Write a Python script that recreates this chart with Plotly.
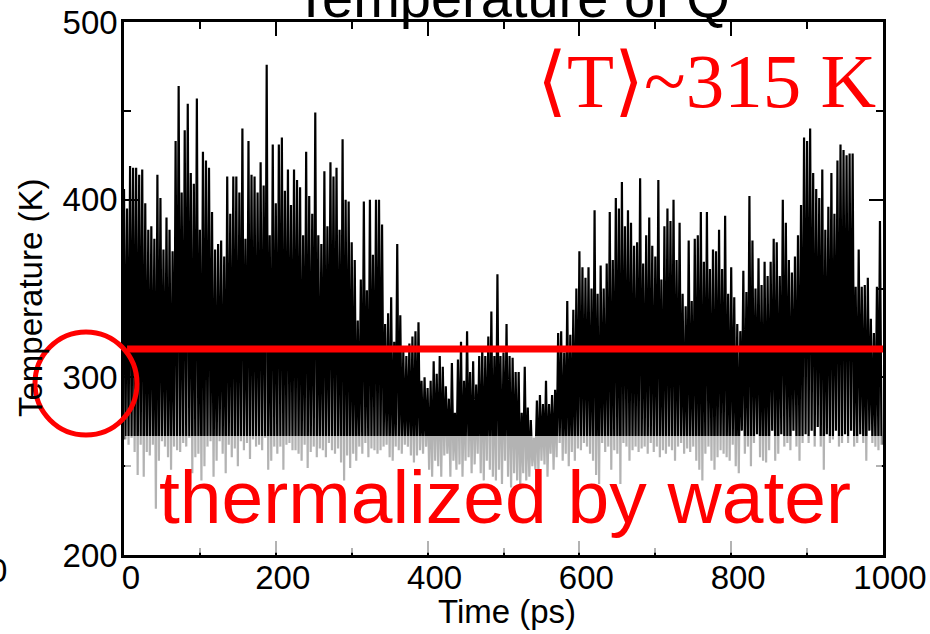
import numpy as np
import plotly.graph_objects as go

# ---------------- data ----------------
STEP = 4  # ps between successive peak samples; troughs sit half-way between
peaks_000_200 = [406,395,419,418,418,414,417,398,383,385, 378,414,401,372,390,383,371,433,464,404,
                 439,454,415,409,457,383,427,422,418,393, 372,375,377,368,413,392,413,413,404,440,
                 378,433,414,413,404,421,408,476,380,431]
peaks_200_400 = [398,431,435,405,417,397,417,411,407,380, 427,402,392,449,380,375,416,385,421,413,
                 418,383,434,400,399,376,366,332,355,399, 349,400,369,400,400,386,330,336,345,320,
                 375,335,315,312,319,323,326,331,298,300]
peaks_400_600 = [294,298,309,302,312,306,295,288,308,280, 310,320,298,326,303,309,296,312,317,312,
                 323,337,312,358,312,314,330,312,311,303, 303,280,306,283,276,266,287,290,285,298,
                 285,290,293,325,326,314,343,324,338,350]
peaks_600_800 = [371,362,356,362,350,394,347,363,350,364, 393,366,401,395,410,385,394,387,374,376,
                 412,364,380,390,374,368,411,355,385,395, 388,400,366,387,347,340,377,343,378,380,
                 393,365,393,361,372,371,383,361,391,347]
peaks_800_1000 = [362,345,330,326,360,348,402,377,350,367, 352,365,357,365,378,376,357,400,387,366,
                  359,368,380,397,435,433,440,415,406,401, 417,383,396,415,392,422,431,428,425,426,
                  426,351,372,351,352,356,333,325,351,388]

troughs_000_200 = [265,262,266,258,245,262,244,258,256,262, 226,253,264,261,255,248,261,259,258,263,
                   261,266,246,255,257,242,250,261,264,244, 253,264,257,246,262,255,260,250,264,259,
                   263,254,265,261,262,259,266,248,253,261]
troughs_200_400 = [257,261,248,262,263,259,259,257,253,262, 249,258,261,255,260,259,255,263,259,257,
                   260,252,242,256,249,257,253,261,257,263, 255,260,259,257,259,261,262,255,253,261,
                   259,257,262,261,256,252,256,259,257,261]
troughs_400_600 = [248,244,253,250,244,256,257,244,253,248, 251,244,253,255,246,251,257,246,242,253,
                   248,244,242,248,240,253,244,238,246,242, 237,246,242,244,250,248,246,253,251,244,
                   257,248,255,263,253,257,250,258,253,260]
troughs_600_800 = [259,263,261,257,253,245,240,263,258,261, 248,259,257,240,263,261,253,259,261,258,
                   260,261,257,263,258,261,255,259,257,261, 259,253,261,263,257,260,258,261,253,248,
                   242,257,261,253,248,255,259,257,255,253]
troughs_800_1000 = [262,250,246,270,257,261,250,263,268,255, 253,252,259,270,253,257,268,261,263,259,
                    270,261,253,263,268,263,270,261,272,261, 248,268,263,265,270,261,263,268,263,270,
                    261,263,268,263,253,270,263,261,259,262]

MEAN_T = 316          # red reference line (K)
WATER_T = 267         # top of the faded band (K)
x_ticks = [0, 200, 400, 600, 800, 1000]
y_ticks = [200, 300, 400, 500]

# ---------------- build series ----------------
peaks = np.array(peaks_000_200 + peaks_200_400 + peaks_400_600 + peaks_600_800 + peaks_800_1000, float)
troughs = np.array(troughs_000_200 + troughs_200_400 + troughs_400_600 + troughs_600_800 + troughs_800_1000, float)
n = len(peaks)
t = np.arange(2 * n) * (STEP / 2)
temp = np.empty(2 * n)
temp[0::2] = peaks
temp[1::2] = troughs

# ---------------- figure ----------------
W, H = 930, 634
L, R, T, B = 124, 47, 22, 79
pw, ph = W - L - R, H - T - B

def px(xp):
    return (xp - L) / pw

def py(yp):
    return (H - B - yp) / ph

fig = go.Figure()
fig.add_trace(go.Scatter(x=t, y=temp, mode="lines",
                         line=dict(color="black", width=2.2, simplify=False),
                         hoverinfo="skip", showlegend=False))

# faded band (water)
fig.add_shape(type="rect", xref="x", yref="y", x0=1.5, x1=998.5, y0=201.2, y1=WATER_T,
              fillcolor="rgba(255,255,255,0.7)", line=dict(width=0), layer="above")
# mean line
fig.add_shape(type="line", xref="x", yref="y", x0=4, x1=1000, y0=MEAN_T, y1=MEAN_T,
              line=dict(color="#ff0000", width=7), layer="above")
# circle around 300
fig.add_shape(type="circle", xref="paper", yref="paper",
              x0=px(35), x1=px(137), y0=py(435), y1=py(332),
              line=dict(color="#ff0000", width=5), layer="above")

font_sans = "Liberation Sans, Arial, Helvetica, sans-serif"
axis_common = dict(showline=True, linewidth=2.5, linecolor="black", mirror="allticks",
                   ticks="inside", ticklen=14, tickwidth=2, tickcolor="black",
                   showgrid=False, zeroline=False, automargin=False,
                   tickfont=dict(family=font_sans, size=33, color="black"))
fig.update_xaxes(range=[0, 1000], tickvals=x_ticks, ticktext=[str(v) for v in x_ticks],
                 minor=dict(dtick=100, ticks="inside", ticklen=7, tickwidth=2, tickcolor="black"),
                 ticklabelstandoff=-8, ticklabelshift=7,
                 **axis_common)
fig.update_yaxes(range=[200, 500], tickvals=y_ticks, ticktext=[str(v) for v in y_ticks],
                 minor=dict(dtick=50, ticks="inside", ticklen=7, tickwidth=2, tickcolor="black"),
                 ticklabelstandoff=-3,
                 **axis_common)

ann = []
ann.append(dict(text="Temperature of Q", x=px(512), y=py(-3), xref="paper", yref="paper",
                xanchor="center", yanchor="middle", showarrow=False,
                font=dict(family=font_sans, size=56, color="black")))
ann.append(dict(text="Time (ps)", x=px(507), y=py(611), xref="paper", yref="paper",
                xanchor="center", yanchor="middle", showarrow=False,
                font=dict(family=font_sans, size=33, color="black")))
ann.append(dict(text="Temperature (K)", x=px(30), y=py(298), xref="paper", yref="paper",
                xanchor="center", yanchor="middle", textangle=-90, showarrow=False,
                font=dict(family=font_sans, size=33, color="black")))
ann.append(dict(text="⟨T⟩~315 K", x=px(706), y=py(81), xref="paper", yref="paper",
                xanchor="center", yanchor="middle", showarrow=False,
                font=dict(family="Liberation Serif, DejaVu Serif, serif", size=77, color="#ff0000")))
ann.append(dict(text="thermalized by water", x=px(505), y=py(497), xref="paper", yref="paper",
                xanchor="center", yanchor="middle", showarrow=False,
                font=dict(family=font_sans, size=75, color="#ff0000")))
ann.append(dict(text="0", x=px(9), y=py(570), xref="paper", yref="paper",
                xanchor="right", yanchor="middle", showarrow=False,
                font=dict(family=font_sans, size=33, color="black")))

fig.update_layout(width=W, height=H, margin=dict(l=L, r=R, t=T, b=B, autoexpand=False),
                  paper_bgcolor="white", plot_bgcolor="white", annotations=ann,
                  showlegend=False)

fig.write_html("out.html", config={"displayModeBar": False})
